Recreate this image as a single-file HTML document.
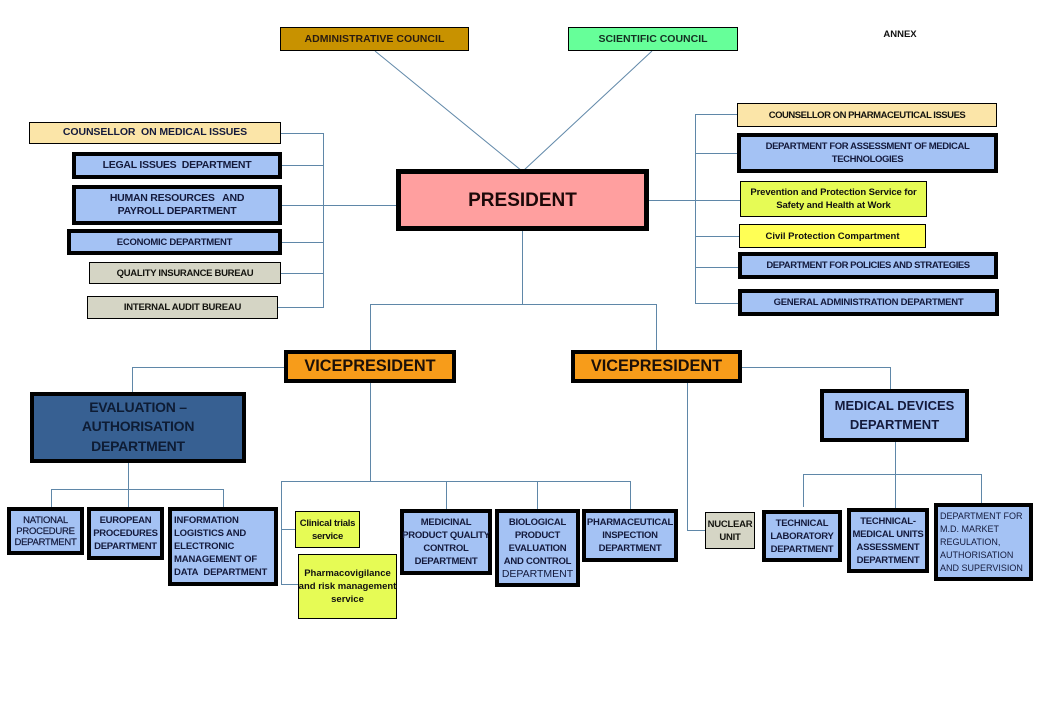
<!DOCTYPE html>
<html lang="en"><head><meta charset="utf-8"><title>Organisation chart</title>
<style>
html,body{margin:0;padding:0;background:#fff}
#c{position:relative;width:1040px;height:720px;overflow:hidden;background:#fff;font-family:"Liberation Sans",sans-serif}
svg{position:absolute;left:0;top:0}
.b{position:absolute;box-sizing:border-box;display:flex;align-items:center;justify-content:center;text-align:center;font-weight:bold;font-size:10px;line-height:13px;color:#141a3c;white-space:nowrap;letter-spacing:-.25px}
.t{border:4px solid #000;background:#a4c2f4}
.n{border:1px solid #000}
.l{justify-content:flex-start;text-align:left}
</style></head><body><div id="c">
<svg width="1040" height="720" fill="none" stroke="#5f87a8" stroke-width="1">
<path d="M375 51L522 171M652 51L523 171"/>
<path d="M281 133.500H323.500V307.500H278M282 165.500H323.500M282 205.500H397M282 242.500H323.500M281 273.500H323.500"/>
<path d="M737 114.500H695.500V303.500H738M737 153.500H695.500M648 200.500H740M739 236.500H695.500M738 267.500H695.500"/>
<path d="M522.500 231V304.500M370.500 351V304.500H656.500V351"/>
<path d="M284 367.500H132.500V392M370.500 383V481.500M281.500 585V481.500H630.500V509M446.500 481.500V509M537.500 481.500V509M281.500 529.500H295M281.500 584.500H298"/>
<path d="M128.500 463V507M51.500 507V489.500H223.500V507"/>
<path d="M687.500 383V530.500H705M742 367.500H890.500V389M895.500 442V508M803.500 507V474.500H981.500V503"/>
</svg>
<div class="b n" style="left:280px;top:27px;width:189px;height:24px;background:#c89200;font-size:10.500px;color:#2a1c10;letter-spacing:.03px">ADMINISTRATIVE COUNCIL</div>
<div class="b n" style="left:568px;top:27px;width:170px;height:24px;background:#66ff99;font-size:10.500px;color:#143022;letter-spacing:0">SCIENTIFIC COUNCIL</div>
<div class="b" style="left:870px;top:27px;width:60px;height:14px;font-size:9.500px;color:#111;letter-spacing:0">ANNEX</div>

<div class="b t" style="left:396px;top:169px;width:253px;height:62px;background:#ff9f9f;border-width:5px;font-size:19px;color:#1c0808;letter-spacing:0">PRESIDENT</div>

<div class="b n" style="left:29px;top:122px;width:252px;height:22px;background:#fbe5a8;font-size:10.500px;padding-bottom:2px;letter-spacing:-.1px">COUNSELLOR&nbsp; ON MEDICAL ISSUES</div>
<div class="b t" style="left:72px;top:152px;width:210px;height:27px;font-size:10.500px">LEGAL ISSUES&nbsp; DEPARTMENT</div>
<div class="b t" style="left:72px;top:185px;width:210px;height:40px;font-size:10.500px">HUMAN RESOURCES&nbsp;&nbsp; AND<br>PAYROLL DEPARTMENT</div>
<div class="b t" style="left:67px;top:229px;width:215px;height:26px;font-size:9.500px">ECONOMIC DEPARTMENT</div>
<div class="b n" style="left:89px;top:262px;width:192px;height:22px;background:#d5d5c5;font-size:9.500px;color:#14140f;letter-spacing:-.3px">QUALITY INSURANCE BUREAU</div>
<div class="b n" style="left:87px;top:296px;width:191px;height:23px;background:#d5d5c5;font-size:9.500px;color:#14140f">INTERNAL AUDIT BUREAU</div>

<div class="b n" style="left:737px;top:103px;width:260px;height:24px;background:#fbe5a8;font-size:9.500px;color:#14140f;letter-spacing:-.47px">COUNSELLOR ON PHARMACEUTICAL ISSUES</div>
<div class="b t" style="left:737px;top:133px;width:261px;height:40px;font-size:9.500px;letter-spacing:-.38px">DEPARTMENT FOR ASSESSMENT OF MEDICAL<br>TECHNOLOGIES</div>
<div class="b n" style="left:740px;top:181px;width:187px;height:36px;background:#e6fb55;font-size:9.500px;color:#111;letter-spacing:-.1px">Prevention and Protection Service for<br>Safety and Health at Work</div>
<div class="b n" style="left:739px;top:224px;width:187px;height:24px;background:#ffff55;font-size:9.500px;color:#111;letter-spacing:0">Civil Protection Compartment</div>
<div class="b t" style="left:738px;top:252px;width:260px;height:27px;font-size:9.500px;letter-spacing:-.45px">DEPARTMENT FOR POLICIES AND STRATEGIES</div>
<div class="b t" style="left:738px;top:289px;width:261px;height:27px;font-size:9.500px">GENERAL ADMINISTRATION DEPARTMENT</div>

<div class="b t" style="left:284px;top:350px;width:172px;height:33px;background:#f79c1a;font-size:16.300px;color:#1c1008;letter-spacing:0">VICEPRESIDENT</div>
<div class="b t" style="left:571px;top:350px;width:171px;height:33px;background:#f79c1a;font-size:16.300px;color:#1c1008;letter-spacing:0">VICEPRESIDENT</div>

<div class="b t" style="left:30px;top:392px;width:216px;height:71px;background:#376092;font-size:14px;line-height:19.500px;color:#0e1c34;padding-bottom:1px">EVALUATION –<br>AUTHORISATION<br>DEPARTMENT</div>
<div class="b t" style="left:820px;top:389px;width:149px;height:53px;font-size:13px;line-height:19px;letter-spacing:0;padding-bottom:1px">MEDICAL DEVICES<br>DEPARTMENT</div>

<div class="b t" style="left:7px;top:507px;width:77px;height:48px;font-size:9.500px;line-height:11px;font-weight:normal;-webkit-text-stroke:.2px #141a3c">NATIONAL<br>PROCEDURE<br>DEPARTMENT</div>
<div class="b t" style="left:87px;top:507px;width:77px;height:53px;font-size:9.500px;line-height:13px">EUROPEAN<br>PROCEDURES<br>DEPARTMENT</div>
<div class="b t l" style="left:168px;top:507px;width:110px;height:79px;font-size:9.500px;padding-left:2px;letter-spacing:-.15px">INFORMATION<br>LOGISTICS AND<br>ELECTRONIC<br>MANAGEMENT OF<br>DATA&nbsp; DEPARTMENT</div>
<div class="b n" style="left:295px;top:511px;width:65px;height:37px;background:#e6fb55;font-size:9.500px;color:#111">Clinical trials<br>service</div>
<div class="b n" style="left:298px;top:554px;width:99px;height:65px;background:#e6fb55;font-size:9.500px;color:#111;letter-spacing:0"><div>Pharmacovigilance<br>and risk management<br>service</div></div>
<div class="b t" style="left:400px;top:509px;width:92px;height:66px;font-size:9.500px">MEDICINAL<br>PRODUCT QUALITY<br>CONTROL<br>DEPARTMENT</div>
<div class="b t" style="left:495px;top:509px;width:85px;height:78px;font-size:9.500px"><div>BIOLOGICAL<br>PRODUCT<br>EVALUATION<br>AND CONTROL<br><span style="font-size:10.500px;font-weight:normal;letter-spacing:0">DEPARTMENT</span></div></div>
<div class="b t" style="left:582px;top:509px;width:96px;height:53px;font-size:9.500px">PHARMACEUTICAL<br>INSPECTION<br>DEPARTMENT</div>
<div class="b n" style="left:705px;top:512px;width:50px;height:37px;background:#d5d5c5;font-size:9.500px;color:#14140f">NUCLEAR<br>UNIT</div>
<div class="b t" style="left:762px;top:510px;width:80px;height:52px;font-size:9.500px">TECHNICAL<br>LABORATORY<br>DEPARTMENT</div>
<div class="b t" style="left:847px;top:508px;width:82px;height:65px;font-size:9.500px">TECHNICAL-<br>MEDICAL UNITS<br>ASSESSMENT<br>DEPARTMENT</div>
<div class="b t l" style="left:934px;top:503px;width:99px;height:78px;font-size:9px;font-weight:normal;letter-spacing:0;padding-left:2px">DEPARTMENT FOR<br>M.D. MARKET<br>REGULATION,<br>AUTHORISATION<br>AND SUPERVISION</div>
</div></body></html>
